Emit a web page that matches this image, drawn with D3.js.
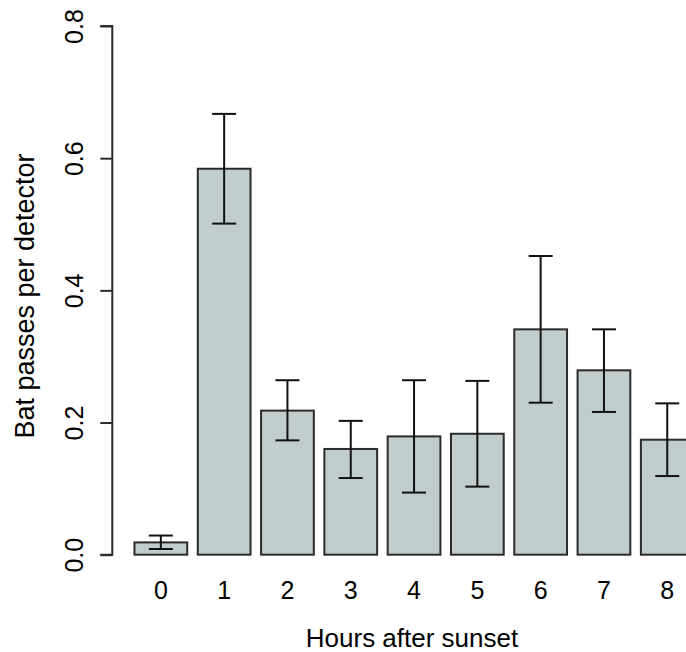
<!DOCTYPE html>
<html>
<head>
<meta charset="utf-8">
<script src="https://cdn.jsdelivr.net/npm/d3@7"></script>
<style>
  body { margin: 0; background: #fff; }
  text { font-family: "Liberation Sans", Arial, sans-serif; fill: #000; }
</style>
</head>
<body>
<div class="chart"></div>
<script>
// hours after sunset, mean passes and error bar ends
var hours = ["0", "1", "2", "3", "4", "5", "6", "7", "8"];
var means = [0.0186, 0.584, 0.218, 0.160, 0.179, 0.183, 0.341, 0.279, 0.174];
var upper = [0.029, 0.667, 0.264, 0.2025, 0.264, 0.263, 0.452, 0.341, 0.229];
var lower = [0.0086, 0.501, 0.173, 0.116, 0.094, 0.103, 0.230, 0.216, 0.119];
var yTicks = [0, 0.2, 0.4, 0.6, 0.8];

var rows = hours.map(function(h, i) {
    return {hour: h, mean: means[i], hi: upper[i], lo: lower[i]};
});

var svg = d3.select(".chart")
            .append("svg")
            .attr("width", 686)
            .attr("height", 652);

// bars width 1, space 0.2 like barplot()
var x = d3.scaleBand()
            .domain(hours)
            .range([129.2, 698.9])
            .paddingInner(1/6)
            .paddingOuter(1/12);

var y = d3.scaleLinear()
            .domain([0, 0.8])
            .range([554.7, 26]);

svg.selectAll("rect.bar")
        .data(rows)
      .enter()
        .append("rect")
        .attr("class", "bar")
        .attr("x", function(d) { return x(d.hour); })
        .attr("y", function(d) { return y(d.mean); })
        .attr("width", x.bandwidth())
        .attr("height", function(d) { return y(0) - y(d.mean); })
        .style("fill", "#c1cdcd")
        .style("stroke", "#2b2b2b")
        .style("stroke-width", 2);

var errs = svg.selectAll("g.err")
        .data(rows)
      .enter()
        .append("g")
        .attr("class", "err")
        .attr("transform", function(d) { return "translate(" + (x(d.hour) + x.bandwidth()/2) + ",0)"; })
        .style("stroke", "#111")
        .style("stroke-width", 2);

errs.append("line")
        .attr("x1", 0).attr("x2", 0)
        .attr("y1", function(d) { return y(d.lo); })
        .attr("y2", function(d) { return y(d.hi); });
errs.append("line")
        .attr("x1", -12).attr("x2", 12)
        .attr("y1", function(d) { return y(d.hi); })
        .attr("y2", function(d) { return y(d.hi); });
errs.append("line")
        .attr("x1", -12).attr("x2", 12)
        .attr("y1", function(d) { return y(d.lo); })
        .attr("y2", function(d) { return y(d.lo); });

// y axis, labels parallel to the axis
var yAxis = svg.append("g")
        .attr("transform", "translate(112.3,0)")
        .call(d3.axisLeft(y).tickValues(yTicks).tickFormat(d3.format(".1f")).tickSize(12));

yAxis.select(".domain")
        .attr("d", "M-12," + y(0) + "H0V" + y(0.8) + "H-12")
        .style("stroke", "#2b2b2b")
        .style("stroke-width", 2);
yAxis.selectAll(".tick line")
        .style("stroke", "#2b2b2b")
        .style("stroke-width", 2);
yAxis.selectAll(".tick text")
        .attr("x", 0)
        .attr("dy", 0)
        .attr("transform", "translate(-29,0) rotate(-90)")
        .attr("text-anchor", "middle")
        .style("font-size", "25px")
        .style("font-family", "'Liberation Sans', Arial, sans-serif")
        .style("fill", "#000");

// category names under bars
svg.selectAll("text.hour")
        .data(rows)
      .enter()
        .append("text")
        .attr("class", "hour")
        .attr("x", function(d) { return x(d.hour) + x.bandwidth()/2; })
        .attr("y", 599.3)
        .attr("text-anchor", "middle")
        .style("font-size", "25px")
        .text(function(d) { return d.hour; });

svg.append("text")
        .attr("x", 412)
        .attr("y", 647)
        .attr("text-anchor", "middle")
        .style("font-size", "26px")
        .text("Hours after sunset");

svg.append("text")
        .attr("transform", "translate(33.5,296) rotate(-90)")
        .attr("text-anchor", "middle")
        .style("font-size", "27px")
        .text("Bat passes per detector");
</script>
</body>
</html>
